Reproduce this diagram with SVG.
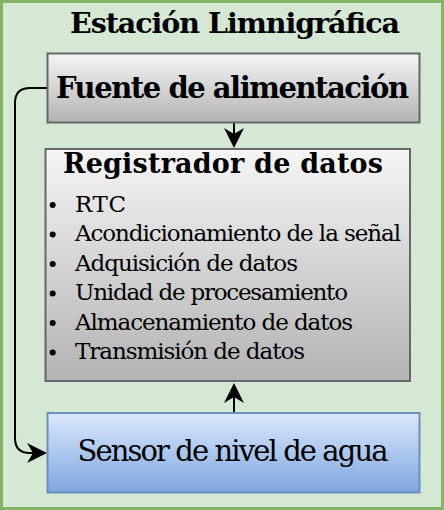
<svg xmlns="http://www.w3.org/2000/svg" width="444" height="510" viewBox="0 0 444 510">
<style>
.bold{font-family:"DejaVu Serif","Liberation Serif",serif;font-weight:bold;fill:#000}
.reg{font-family:"DejaVu Serif","Liberation Serif",serif;fill:#000}
.gray{fill:url(#gGray);stroke:#666666;stroke-width:2}
.blue{fill:url(#gBlue);stroke:#6c8ebf;stroke-width:2}
.conn{fill:none;stroke:#000;stroke-width:2}
</style>
<defs>
<linearGradient id="gGray" x1="0" y1="0" x2="0" y2="1">
<stop offset="0" stop-color="#f5f5f5"/><stop offset="1" stop-color="#b3b3b3"/>
</linearGradient>
<linearGradient id="gBlue" x1="0" y1="0" x2="0" y2="1">
<stop offset="0" stop-color="#dae8fc"/><stop offset="1" stop-color="#7ea6e0"/>
</linearGradient>
<marker id="arr" markerUnits="userSpaceOnUse" markerWidth="22" markerHeight="22" viewBox="0 0 22 22" refX="6" refY="11" orient="auto">
<path d="M0,1 L20,11 L0,21 L6,11 Z" fill="#000"/>
</marker>
</defs>
<g id="station">
<rect x="1.5" y="1.5" width="441" height="507" fill="#d5e8d4" stroke="#82b366" stroke-width="3"/>
<text class="bold" x="235" y="33" font-size="28.5" text-anchor="middle" textLength="330" lengthAdjust="spacing">Estación Limnigráfica</text>
</g>
<g id="connectors">
<line class="conn" x1="234" y1="123" x2="234" y2="134" marker-end="url(#arr)"/>
<line class="conn" x1="234" y1="413" x2="234" y2="397" marker-end="url(#arr)"/>
<path class="conn" d="M47,88 H30 Q15,88 15,103 V438 Q15,453 30,453 H33" marker-end="url(#arr)"/>
</g>
<g id="fuente">
<rect class="gray" x="47.5" y="53.5" width="372" height="69"/>
<text class="bold" x="232.5" y="98" font-size="29" text-anchor="middle" textLength="353" lengthAdjust="spacing">Fuente de alimentación</text>
</g>
<g id="registrador">
<rect class="gray" x="45.5" y="149" width="364.5" height="232"/>
<text class="bold" x="223" y="173" font-size="27" text-anchor="middle" textLength="320" lengthAdjust="spacing">Registrador de datos</text>
<g fill="#000">
<circle cx="52.7" cy="205" r="3"/>
<circle cx="52.7" cy="234.5" r="3"/>
<circle cx="52.7" cy="264" r="3"/>
<circle cx="52.7" cy="293.5" r="3"/>
<circle cx="52.7" cy="323" r="3"/>
<circle cx="52.7" cy="352.5" r="3"/>
</g>
<text class="reg" x="75" y="212" font-size="23" textLength="51" lengthAdjust="spacing">RTC</text>
<text class="reg" x="75" y="241" font-size="23" textLength="326" lengthAdjust="spacing">Acondicionamiento de la señal</text>
<text class="reg" x="75" y="270.5" font-size="23" textLength="223" lengthAdjust="spacing">Adquisición de datos</text>
<text class="reg" x="75" y="300" font-size="23" textLength="273" lengthAdjust="spacing">Unidad de procesamiento</text>
<text class="reg" x="75" y="329.5" font-size="23" textLength="278" lengthAdjust="spacing">Almacenamiento de datos</text>
<text class="reg" x="75" y="359" font-size="23" textLength="230" lengthAdjust="spacing">Transmisión de datos</text>
</g>
<g id="sensor">
<rect class="blue" x="47.5" y="413" width="372" height="79.5"/>
<text class="reg" x="233" y="461" font-size="29" text-anchor="middle" textLength="311" lengthAdjust="spacing">Sensor de nivel de agua</text>
</g>
</svg>
